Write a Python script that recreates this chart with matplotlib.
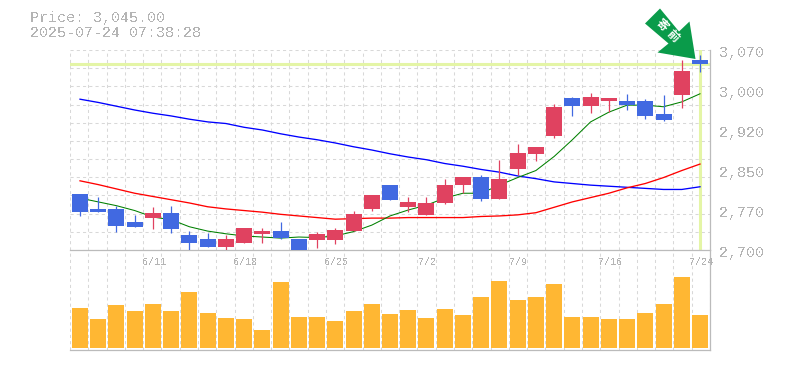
import matplotlib
matplotlib.use("Agg")
import matplotlib.pyplot as plt
import numpy as np
from matplotlib.patches import Polygon
from matplotlib.transforms import Affine2D, blended_transform_factory

# Daily prices (yen)
opens = [2804, 2776, 2776, 2752, 2759, 2768, 2728, 2720, 2706, 2713, 2730, 2735, 2720, 2719, 2719, 2735, 2776, 2820,
         2780, 2765, 2787, 2820, 2835, 2794, 2850, 2878, 2911, 2981, 2966, 2976, 2976, 2976, 2952, 2987, 3052]
highs = [2804, 2798, 2781, 2765, 2780, 2781, 2735, 2731, 2728, 2741, 2741, 2752, 2720, 2733, 2741, 2772, 2802, 2820,
         2798, 2798, 2831, 2835, 2839, 2866, 2896, 2891, 2970, 2983, 2990, 2981, 2989, 2979, 2987, 3052, 3061]
lows = [2763, 2770, 2733, 2743, 2739, 2731, 2699, 2706, 2700, 2713, 2713, 2720, 2698, 2704, 2711, 2735, 2772, 2793,
        2770, 2765, 2785, 2805, 2791, 2794, 2839, 2865, 2907, 2948, 2953, 2955, 2959, 2942, 2939, 2963, 3029]
closes = [2770, 2770, 2744, 2743, 2768, 2739, 2713, 2706, 2720, 2741, 2735, 2722, 2700, 2730, 2737, 2767, 2802, 2793,
          2789, 2787, 2820, 2835, 2794, 2831, 2879, 2891, 2965, 2966, 2983, 2981, 2968, 2948, 2940, 3031, 3045]

ma_short = [2796, 2789, 2782, 2773, 2761, 2756, 2743, 2735, 2730, 2726, 2724, 2722, 2724, 2723, 2726, 2734, 2746, 2763,
            2774, 2783, 2796, 2805, 2805, 2820, 2834, 2847, 2873, 2904, 2937, 2955, 2968, 2968, 2965, 2974, 2989]
ma_mid = [2828, 2821, 2813, 2805, 2799, 2793, 2787, 2780, 2776, 2773, 2770, 2766, 2763, 2760, 2757, 2758, 2759, 2759,
          2760, 2760, 2760, 2760, 2762, 2763, 2765, 2769, 2779, 2789, 2797, 2805, 2815, 2823, 2834, 2847, 2859]
ma_long = [2979, 2973, 2966, 2959, 2953, 2948, 2942, 2937, 2934, 2927, 2922, 2915, 2909, 2904, 2898, 2891, 2885, 2878,
           2872, 2867, 2860, 2855, 2849, 2844, 2837, 2832, 2826, 2823, 2820, 2818, 2816, 2814, 2812, 2812, 2817]

# Volume, in arbitrary units since the chart has no scale for it
volumes = [40, 29, 43, 37, 44, 37, 56, 35, 30, 29, 18, 66, 31, 31, 27, 37, 44, 34,
           38, 30, 39, 33, 51, 67, 48, 51, 64, 31, 31, 29, 29, 35, 44, 71, 33]

date_idx = [4, 9, 14, 19, 24, 29, 34]
date_labels = ["6/11", "6/18", "6/25", "7/2", "7/9", "7/16", "7/24"]
price_labels = ["2,700", "2,770", "2,850", "2,920", "3,000", "3,070"]
current_price = 3045

GRAY = "#b4b4b4"
GRID = "#d8d8d8"
UP = "#e04260"
DOWN = "#4169e1"
HILITE = "#e4f5a6"
W, H = 785, 370

plt.rcParams["font.family"] = ["Liberation Mono", "DejaVu Sans Mono"]
plt.rcParams["text.antialiased"] = False

fig = plt.figure(figsize=(W / 100, H / 100), dpi=100)
ax_vol = fig.add_axes([70 / W, 1 - 349.5 / H, 640 / W, 99.5 / H])
ax = fig.add_axes([70 / W, 1 - 250 / H, 640 / W, 200 / H])
ax_vol.patch.set_visible(False)
x = np.arange(len(closes))

# pixel coordinates for the header and the arrow, y going down
px = Affine2D().scale(1, -1).translate(0, H)

# candles sit slightly tighter than the grid cells in the original
x_min, x_max = -0.548, 34.548

for a in (ax, ax_vol):
    a.set_xlim(x_min, x_max)
    a.set_xticks(np.linspace(x_min, x_max, len(x) + 1))
    a.tick_params(length=0, labelbottom=False, labelleft=False)
    a.grid(axis="x", color=GRID, linestyle=(0, (3, 3)), linewidth=0.75)
    a.set_axisbelow(True)
    a.spines["top"].set_visible(False)
    a.spines["left"].set_visible(False)
    for s in ("bottom", "right"):
        a.spines[s].set_color("#bbbbbb")
        a.spines[s].set_linewidth(0.9)

# Price panel
ax.set_ylim(2700, 3070)
ax.set_yticks(np.linspace(2700, 3070, 12))
ax.grid(axis="y", color=GRID, linestyle=(0, (3, 3)), linewidth=0.75)

ax.axhline(current_price, color=HILITE, linewidth=2.2, zorder=1)
ax.axvline(x[-1], color=HILITE, linewidth=2.2, zorder=1)

ax.plot(x, ma_long, color="#0000ff", linewidth=0.95, zorder=2)
ax.plot(x, ma_mid, color="#ff0000", linewidth=0.95, zorder=2)
ax.plot(x, ma_short, color="#008000", linewidth=0.75, zorder=2)

colors = [UP if c >= o else DOWN for o, c in zip(opens, closes)]
ax.vlines(x, lows, highs, colors=colors, linewidth=0.9, zorder=3)
ax.bar(x, np.array(closes) - np.array(opens), bottom=opens, width=0.877, color=colors, zorder=3)

# Volume panel
ax_vol.set_ylim(-1.5, 98)
ax_vol.set_yticks([])
ax_vol.bar(x, volumes, width=0.877, color="#ffb733", zorder=3)

# Labels
right = blended_transform_factory(ax.transAxes, ax.transData)
for v, lab in zip(np.linspace(2700, 3070, 6), price_labels):
    ax.annotate(lab, xy=(1, v), xycoords=right, xytext=(9, -3.5), textcoords="offset pixels",
                color=GRAY, fontsize=10.8, ha="left", va="center", annotation_clip=False)

bottom = blended_transform_factory(ax.transData, ax.transAxes)
for i, lab in zip(date_idx, date_labels):
    ax.annotate(lab, xy=(i, 0), xycoords=bottom, xytext=(1, -12), textcoords="offset pixels",
                color=GRAY, fontsize=7.2, ha="center", va="center", annotation_clip=False)

fig.text(30, 18, "Price: 3,045.00", transform=px, color=GRAY, fontsize=10.8, va="center")
fig.text(30, 33, "2025-07-24 07:38:28", transform=px, color=GRAY, fontsize=10.8, va="center")

# Arrow marker pointing at the latest candle
arrow = [(660, 8.5), (645, 23.5), (668.5, 43.5), (657.5, 52.5), (695.5, 59), (689.5, 21.5), (679, 31.5)]
fig.add_artist(Polygon(arrow, closed=True, transform=px, facecolor="#0a9b4a", edgecolor="none", zorder=5))
for ch, cx, cy in zip("寄前", (662, 673), (25, 36)):
    fig.text(cx, cy, ch, transform=px, color="white", fontsize=8.5, fontweight="bold",
             family=["Noto Sans CJK JP", "DejaVu Sans"], rotation=-45, rotation_mode="anchor",
             ha="center", va="center", zorder=6, antialiased=True)

fig.savefig("out.png", dpi=100)
